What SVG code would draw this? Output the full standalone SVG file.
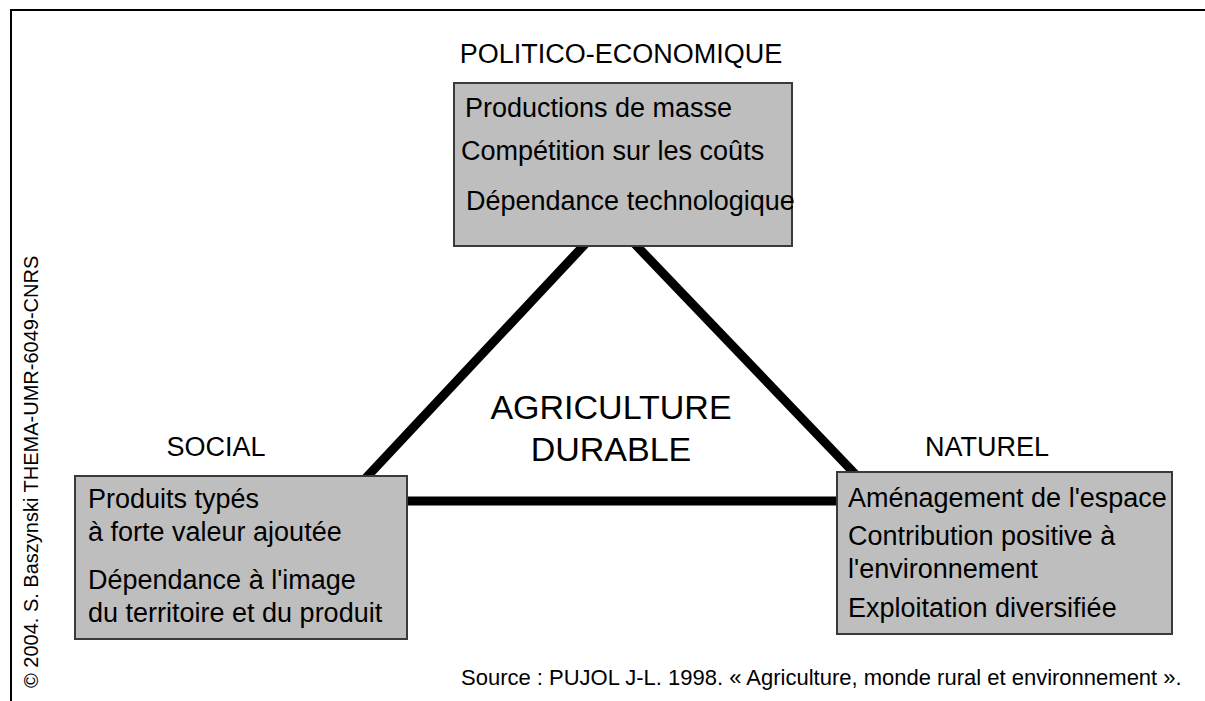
<svg xmlns="http://www.w3.org/2000/svg" width="1205" height="701" viewBox="0 0 1205 701">
<style>
text { font-family: "Liberation Sans", Arial, sans-serif; fill: #000; }
.box { fill: #bebebe; stroke: #3a3a3a; stroke-width: 2; }
.t { font-size: 27px; }
.title { font-size: 27px; text-anchor: middle; }
.big { font-size: 34px; text-anchor: middle; }
.edge { stroke: #000; stroke-width: 9; fill: none; }
</style>
<rect x="0" y="0" width="1205" height="701" fill="#fff"/>
<path d="M11,701 V10 H1205" fill="none" stroke="#000" stroke-width="2"/>
<g id="connectors">
<line class="edge" x1="588" y1="241" x2="363" y2="481"/>
<line class="edge" x1="632" y1="241" x2="858" y2="477"/>
<line class="edge" x1="400" y1="501" x2="845" y2="501"/>
</g>
<g id="politico">
<text class="title" x="621" y="63">POLITICO-ECONOMIQUE</text>
<rect class="box" x="454" y="83" width="338" height="163"/>
<text class="t" x="465" y="117">Productions de masse</text>
<text class="t" x="461" y="160">Compétition sur les coûts</text>
<text class="t" x="466" y="210">Dépendance technologique</text>
</g>
<g id="social">
<text class="title" x="216" y="456">SOCIAL</text>
<rect class="box" x="75" y="476" width="332" height="163"/>
<text class="t" x="88" y="508">Produits typés</text>
<text class="t" x="88" y="541">à forte valeur ajoutée</text>
<text class="t" x="88" y="589">Dépendance à l'image</text>
<text class="t" x="88" y="622">du territoire et du produit</text>
</g>
<g id="naturel">
<text class="title" x="987" y="456">NATUREL</text>
<rect class="box" x="837" y="472" width="335" height="162"/>
<text class="t" x="848" y="507">Aménagement de l'espace</text>
<text class="t" x="848" y="545">Contribution positive à</text>
<text class="t" x="848" y="578">l'environnement</text>
<text class="t" x="848" y="617">Exploitation diversifiée</text>
</g>
<g id="centre">
<text class="big" x="611" y="419">AGRICULTURE</text>
<text class="big" x="611" y="461">DURABLE</text>
</g>
<text x="461" y="685" font-size="22">Source : PUJOL J-L. 1998. « Agriculture, monde rural et environnement ».</text>
<text transform="translate(38,688) rotate(-90)" font-size="20">© 2004. S. Baszynski THEMA-UMR-6049-CNRS</text>
</svg>
